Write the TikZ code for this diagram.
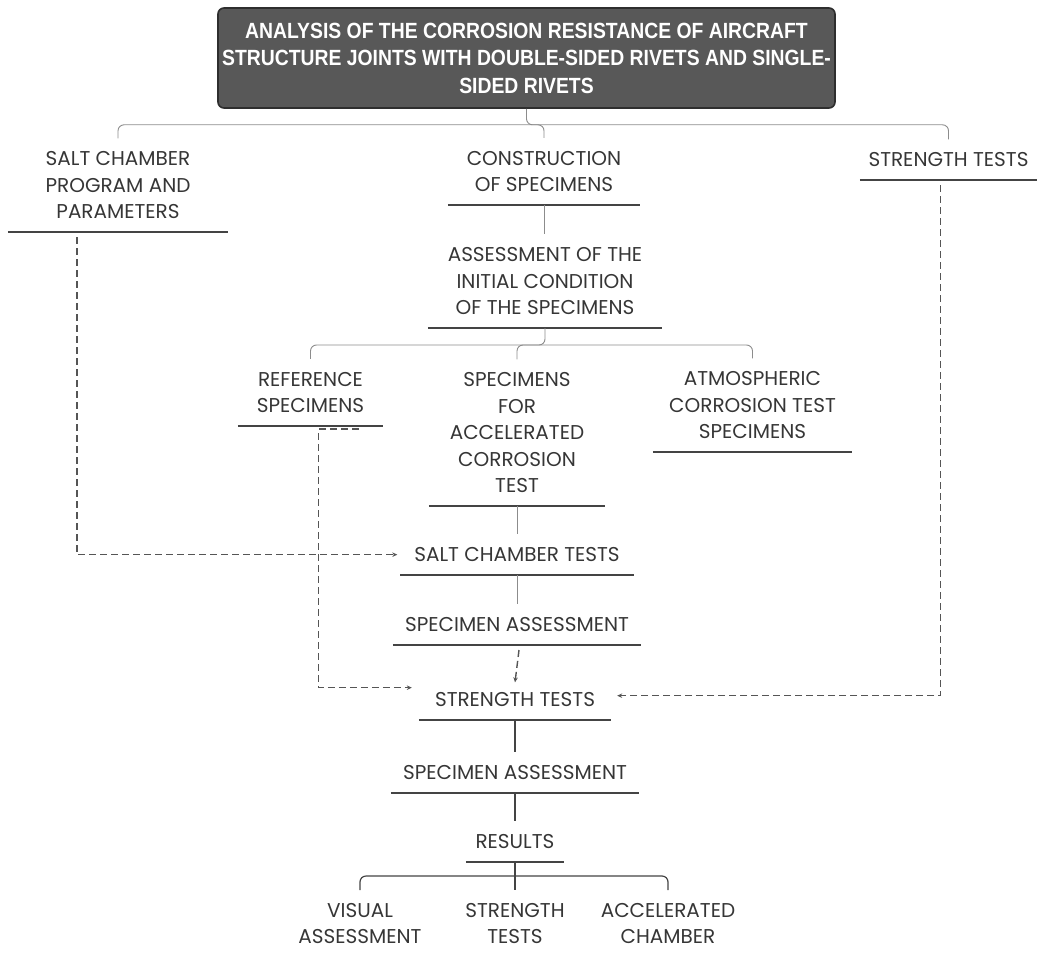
\documentclass[tikz,border=0pt]{standalone}
\usepackage{fontspec}
\setmainfont{Poppins}
\newfontfamily\titlefont[FakeStretch=0.88]{Liberation Sans}
\usetikzlibrary{arrows.meta,positioning,calc}

\definecolor{ink}{HTML}{363636}
\definecolor{rulegray}{HTML}{444444}
\definecolor{linkgray}{HTML}{8C8C8C}
\definecolor{dashgray}{HTML}{555555}
\definecolor{boxfill}{HTML}{585858}
\definecolor{boxedge}{HTML}{2E2E2E}

\begin{document}
\begin{tikzpicture}[x=1pt, y=-1pt,
    % Node styles
    titlebox/.style={rectangle, draw=boxedge, fill=boxfill, line width=1.6pt, rounded corners=6pt, minimum width=617pt, minimum height=100pt, align=center, text=white, font=\titlefont\bfseries\fontsize{22}{27.5}\selectfont},
    rule/.style={draw=rulegray, line width=1.8pt},
    topic/.style={align=center, text=ink, font=\fontsize{20}{26.5}\selectfont, inner xsep=0pt, inner ysep=13pt, anchor=south, minimum width=#1, append after command={(\tikzlastnode.south west) edge[rule] (\tikzlastnode.south east)}},
    leaf/.style={align=center, text=ink, font=\fontsize{20}{26.5}\selectfont, inner xsep=0pt, inner ysep=13pt, anchor=north},
    % Connector styles
    link/.style={draw=linkgray, line width=0.9pt},
    link2/.style={draw=rulegray, line width=1.2pt},
    dashlink/.style={draw=dashgray, line width=1.4pt, dash pattern=on 7pt off 4pt, -{Stealth[length=5pt, width=4.5pt]}}
]
\useasboundingbox (0,0) rectangle (1043,955);

% Title
\node[titlebox] (title) at (526.5,58) {ANALYSIS OF THE CORROSION RESISTANCE OF AIRCRAFT\\STRUCTURE JOINTS WITH DOUBLE-SIDED RIVETS AND SINGLE-\\SIDED RIVETS};

% First level
\node[topic=220pt] (salt) at (118,232) {SALT CHAMBER\\PROGRAM AND\\PARAMETERS};
\node[topic=192pt] (constr) at (544,205) {CONSTRUCTION\\OF SPECIMENS};
\node[topic=177pt] (strtop) at (948.5,180) {STRENGTH TESTS};

\draw[link, rounded corners=6pt] (salt.north) |- ([yshift=-16pt]title.south) -| (strtop.north);
\draw[link, rounded corners=6pt] (title.south) -- ++(0,16) -| (constr.north);

% Initial condition
\node[topic=234pt] (assess) at (545,328) {ASSESSMENT OF THE\\INITIAL CONDITION\\OF THE SPECIMENS};
\draw[link] (constr.south) -- (constr.south |- assess.north);

% Specimen groups
\node[topic=145pt] (refs) at (310.5,426) {REFERENCE\\SPECIMENS};
\node[topic=176pt] (accel) at (517,506) {SPECIMENS\\FOR\\ACCELERATED\\CORROSION\\TEST};
\node[topic=199pt] (atmo) at (752.5,452) {ATMOSPHERIC\\CORROSION TEST\\SPECIMENS};

\draw[link, rounded corners=6pt] (refs.north) |- ([yshift=-17pt]assess.south) -| (atmo.north);
\draw[link, rounded corners=6pt] (assess.south) -- ++(0,17) -| (accel.north);

% Test sequence
\node[topic=233pt] (sct) at (517,575) {SALT CHAMBER TESTS};
\node[topic=248pt] (sa1) at (517,645) {SPECIMEN ASSESSMENT};
\node[topic=192pt] (st) at (515,720) {STRENGTH TESTS};
\node[topic=248pt] (sa2) at (515,793) {SPECIMEN ASSESSMENT};
\node[topic=98pt] (res) at (515,862) {RESULTS};

\draw[link] (accel.south) -- (sct.north);
\draw[link] (sct.south) -- (sa1.north);
\draw[dashlink] ([xshift=2pt, yshift=-5pt]sa1.south) -- ([yshift=-3pt]st.north);
\draw[link2] (st.south) -- (sa2.north);
\draw[link2] (sa2.south) -- (res.north);

% Dashed inputs
\draw[dashlink] ([xshift=-41pt, yshift=-5pt]salt.south) |- ([xshift=-3pt]sct.west);
\draw[dashlink] ([xshift=48pt, yshift=-3pt]refs.south) -- ++(-40,0) |- ([xshift=-7pt, yshift=12pt]st.west);
\draw[dashlink] ([xshift=-8pt, yshift=-5pt]strtop.south) |- ([xshift=6pt, yshift=4pt]st.east);

% Results
\node[leaf] (visual) at (360,890) {VISUAL\\ASSESSMENT};
\node[leaf] (str2) at (515,890) {STRENGTH\\TESTS};
\node[leaf] (accch) at (668,890) {ACCELERATED\\CHAMBER};

\draw[link2, rounded corners=6pt] (visual.north) |- ([yshift=-14pt]res.south) -| (accch.north);
\draw[link2] (res.south) -- (str2.north);

\end{tikzpicture}
\end{document}
